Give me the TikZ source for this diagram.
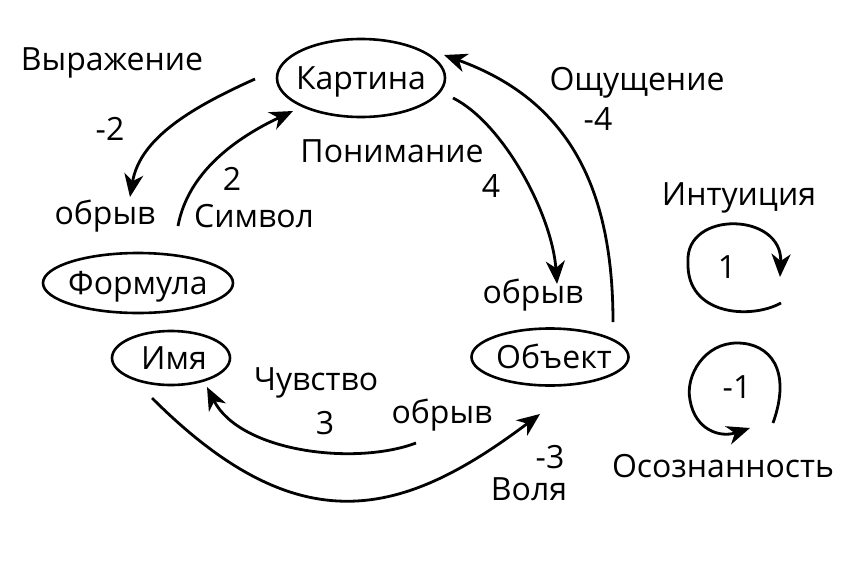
\documentclass[tikz,border=0pt]{standalone}
\usepackage{fontspec}
\setmainfont{Open Sans}
\usetikzlibrary{arrows.meta,shapes.geometric}

\begin{document}
\begin{tikzpicture}[x=1pt,y=-1pt,font=\fontsize{32}{36}\selectfont,
  state/.style={draw,ellipse,line width=2.6pt,inner sep=0pt,text height=22pt,text depth=0pt},
  lbl/.style={anchor=base,inner sep=0pt},
  arr/.style={line width=2.8pt,-{Stealth[length=23pt,width=19pt,inset=7pt]}}]
\useasboundingbox (0,0) rectangle (851,560);
% states
\node[state,minimum width=168pt,minimum height=78pt] (kartina) at (361,78) {\makebox[0pt]{Картина}};
\node[state,minimum width=190pt,minimum height=60pt] (formula) at (138,283) {\makebox[0pt]{Формула}};
\node[state,minimum width=118pt,minimum height=54pt] (imya) at (171,358) {\makebox[0pt]{\hspace{6pt}Имя}};
\node[state,minimum width=157pt,minimum height=57pt] (obekt) at (550,357) {\makebox[0pt]{\hspace{8pt}Объект}};
% labels
\node[lbl] (vyr) at (112,70) {Выражение};
\node[lbl] (m2) at (110,140) {-2};
\node[lbl] (obr1) at (105,224) {обрыв};
\node[lbl] (p2) at (232,190) {2};
\node[lbl] (simv) at (254,227) {Символ};
\node[lbl] (pon) at (392,162) {Понимание};
\node[lbl] (p4) at (491,197) {4};
\node[lbl] (oshch) at (637,90) {Ощущение};
\node[lbl] (m4) at (598,130) {-4};
\node[lbl] (intu) at (739,205) {Интуиция};
\node[lbl] (p1) at (727,278) {1};
\node[lbl] (obr2) at (533,303) {обрыв};
\node[lbl] (chuv) at (316,390) {Чувство};
\node[lbl] (p3) at (325,434) {3};
\node[lbl] (obr3) at (442,423) {обрыв};
\node[lbl] (m3) at (550,468) {-3};
\node[lbl] (volya) at (529,500) {Воля};
\node[lbl] (m1) at (737,398) {-1};
\node[lbl] (osozn) at (723,477) {Осознанность};
% free ends
\coordinate (k-w) at (255,79);
\coordinate (obr-l) at (130,197);
\coordinate (sim) at (178,226);
\coordinate (k-sw) at (293,111);
\coordinate (k-se) at (453,98);
\coordinate (obr-r) at (557,284);
\coordinate (obj-n) at (613,322);
\coordinate (k-ne) at (444,55);
\coordinate (obr-b) at (416,443);
\coordinate (imya-se) at (207,387);
\coordinate (imya-s) at (152,398);
\coordinate (obj-sw) at (540,414);
\coordinate (int) at (781,303);
\coordinate (int-tip) at (780,277);
\coordinate (osz) at (773,423);
\coordinate (osz-tip) at (750,428);
% arrows
\draw[arr] (k-w) .. controls (195,106) and (140,137) .. (obr-l);
\draw[arr] (sim) .. controls (188,172) and (236,138) .. (k-sw);
\draw[arr] (k-se) .. controls (503,123) and (552,214) .. (obr-r);
\draw[arr] (obj-n) .. controls (613,180) and (563,98) .. (k-ne);
\draw[arr] (obr-b) .. controls (355,466) and (240,452) .. (imya-se);
\draw[arr] (imya-s) .. controls (300,546) and (403,517) .. (obj-sw);
\draw[arr] (int) .. controls (750,320) and (686,315) .. (688,262) .. controls (685,210) and (783,212) .. (int-tip);
\draw[arr] (osz) .. controls (792,370) and (770,343) .. (737,343) .. controls (705,343) and (685,375) .. (690,400) .. controls (695,430) and (720,438) .. (osz-tip);
\end{tikzpicture}
\end{document}
